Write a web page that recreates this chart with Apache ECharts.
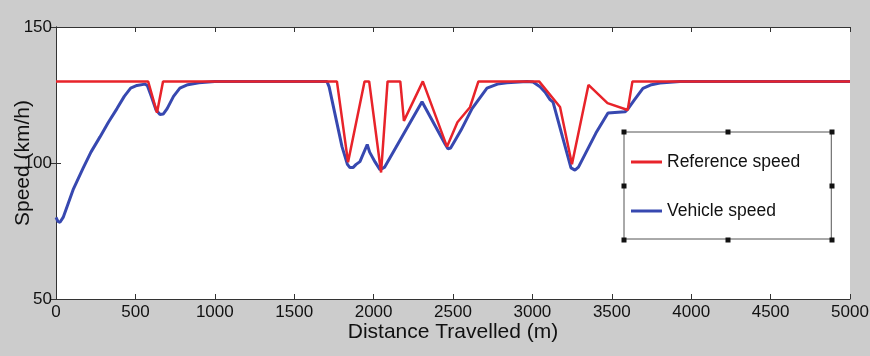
<!DOCTYPE html>
<html>
<head>
<meta charset="utf-8">
<script src="https://cdn.jsdelivr.net/npm/echarts@6/dist/echarts.min.js"></script>
<style>
  html, body { margin: 0; padding: 0; background: #cccccc; }
  #chart { width: 870px; height: 356px; }
</style>
</head>
<body>
<div id="chart"></div>
<script>
// Axis ranges and tick spacing
const xTicks = [0, 500, 1000, 1500, 2000, 2500, 3000, 3500, 4000, 4500, 5000];
const yTicks = [50, 100, 150];

// Reference speed profile (distance m -> km/h)
const refDist  = [0, 580, 636, 674, 1769, 1839, 1943, 1972, 2047, 2088, 2168, 2191, 2310,
                  2462, 2528, 2607, 2660, 3042, 3174, 3249, 3353, 3473, 3600, 3630, 5000];
const refSpeed = [130, 130, 118.5, 130, 130, 100.3, 130, 130, 96.5, 130, 130, 115.5, 130,
                  106, 115, 120.5, 130, 130, 120.6, 99.5, 128.7, 122, 119.5, 130, 130];

// Measured vehicle speed (distance m -> km/h)
const vehDist  = [0, 12, 25, 45, 70, 110, 170, 220, 277, 330, 384, 430, 470, 510, 560,
                  575, 600, 630, 655, 675, 700, 740, 780, 830, 900, 1000,
                  1706, 1720, 1801, 1835, 1851, 1870, 1890, 1914, 1960, 1975, 2009, 2040, 2050, 2070,
                  2305, 2450, 2468, 2485, 2510, 2550, 2620, 2714, 2780, 2840, 2966,
                  3004, 3048, 3080, 3111, 3130, 3190, 3243, 3268, 3290, 3400, 3476, 3583, 3602,
                  3640, 3696, 3750, 3803, 3929, 5000];
const vehSpeed = [80, 78.5, 78.2, 80, 84, 90.5, 98, 104, 109.6, 115, 120, 124.5, 127.5, 128.5, 129,
                  128.5, 124.5, 119.5, 117.8, 118, 120, 124.5, 127.5, 128.8, 129.5, 130,
                  130, 128, 106, 99.5, 98.3, 98.3, 99.5, 100.5, 106.8, 104, 100.4, 97.5, 97.2, 98.5,
                  122.5, 107, 105.2, 105.5, 108, 112, 120, 127.5, 129, 129.5, 130,
                  129.8, 128, 126, 123.3, 122.4, 109.5, 98.2, 97.4, 98.5, 111, 118.4, 118.8, 119.9,
                  123, 127.4, 128.8, 129.4, 130, 130];

const zip = (xs, ys) => xs.map((x, i) => [x, ys[i]]);

const font = 'Liberation Sans, Arial, Helvetica, sans-serif';
const ink = '#111';
const frame = '#333';
const plain = (v) => String(v);

const tickAxis = (extra) => Object.assign({
  type: 'value',
  axisLine: { show: true, lineStyle: { color: frame, width: 1 } },
  axisTick: { show: true, inside: true, length: 5, lineStyle: { color: frame, width: 1 } },
  splitLine: { show: false }
}, extra);

// Selection handles around the legend frame
const handles = [[624,132],[728,132],[832,132],[624,186],[832,186],[624,240],[728,240],[832,240]]
  .map(([cx, cy]) => ({
    type: 'rect', z: 100,
    shape: { x: cx - 2.5, y: cy - 2.5, width: 5, height: 5 },
    style: { fill: '#111' }
  }));

const chart = echarts.init(document.getElementById('chart'), null, { renderer: 'canvas' });
chart.setOption({
  backgroundColor: '#cccccc',
  animation: false,
  textStyle: { fontFamily: font },
  grid: {
    left: 56, top: 27, right: 20, bottom: 57,
    containLabel: false, outerBoundsMode: 'none',
    show: true, backgroundColor: '#ffffff', borderWidth: 0
  },
  xAxis: [
    tickAxis({
      min: xTicks[0], max: xTicks[xTicks.length - 1], interval: xTicks[1] - xTicks[0],
      position: 'bottom',
      name: 'Distance Travelled (m)', nameLocation: 'middle', nameGap: 23, nameMoveOverlap: false,
      nameTextStyle: { color: ink, fontSize: 21, fontFamily: font },
      axisLabel: { color: ink, fontSize: 17, margin: 5, fontFamily: font, formatter: plain }
    }),
    tickAxis({
      min: xTicks[0], max: xTicks[xTicks.length - 1], interval: xTicks[1] - xTicks[0],
      position: 'top', axisLabel: { show: false }
    })
  ],
  yAxis: [
    tickAxis({
      min: yTicks[0], max: yTicks[yTicks.length - 1], interval: yTicks[1] - yTicks[0],
      position: 'left',
      name: 'Speed (km/h)', nameLocation: 'middle', nameGap: 22, nameMoveOverlap: false,
      nameTextStyle: { color: ink, fontSize: 21, fontFamily: font },
      axisLabel: { color: ink, fontSize: 17, margin: 4, fontFamily: font, formatter: plain }
    }),
    tickAxis({
      min: yTicks[0], max: yTicks[yTicks.length - 1], interval: yTicks[1] - yTicks[0],
      position: 'right', axisLabel: { show: false }
    })
  ],
  legend: {
    orient: 'vertical',
    left: 624, top: 132,
    padding: [21, 31, 19, 7],
    itemGap: 31,
    itemWidth: 31, itemHeight: 3,
    icon: 'rect',
    backgroundColor: '#ffffff',
    borderColor: '#555', borderWidth: 1,
    textStyle: { color: ink, fontSize: 17.5, lineHeight: 18, fontFamily: font },
    data: ['Reference speed', 'Vehicle speed']
  },
  series: [
    {
      name: 'Reference speed', type: 'line', symbol: 'none',
      data: zip(refDist, refSpeed),
      lineStyle: { color: '#e8232a', width: 2.5 }, itemStyle: { color: '#e8232a' }, z: 3
    },
    {
      name: 'Vehicle speed', type: 'line', symbol: 'none',
      data: zip(vehDist, vehSpeed),
      lineStyle: { color: '#3748b0', width: 3 }, itemStyle: { color: '#3748b0' }, z: 2
    }
  ],
  graphic: handles
});
</script>
</body>
</html>
